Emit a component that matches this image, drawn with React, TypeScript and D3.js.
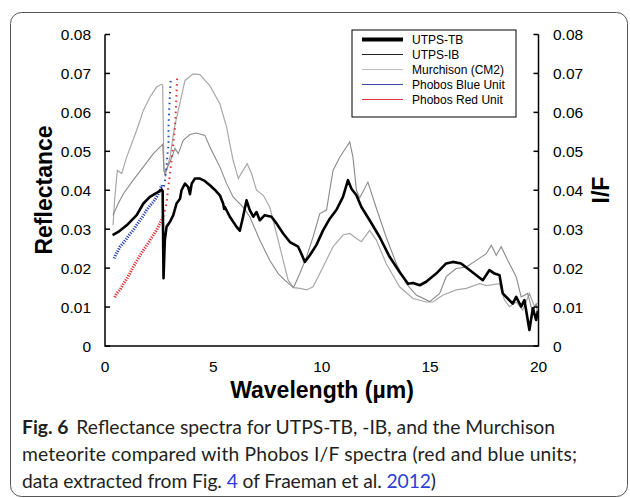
import React from 'react';
import * as d3 from 'd3';

const W = 630;
const H = 498;

const xTicks = [0, 5, 10, 15, 20];
const yTicks = [0, 0.01, 0.02, 0.03, 0.04, 0.05, 0.06, 0.07, 0.08];
const yTickLabels = ['0', '0.01', '0.02', '0.03', '0.04', '0.05', '0.06', '0.07', '0.08'];

const seriesNames = ['UTPS-TB', 'UTPS-IB', 'Murchison (CM2)', 'Phobos Blue Unit', 'Phobos Red Unit'];

const utpsTB: [number, number][] = [
  [0.35, 0.0285], [0.61, 0.0293], [1.0, 0.031], [1.46, 0.0336], [1.77, 0.0366], [2.07, 0.0383],
  [2.38, 0.0393], [2.61, 0.0402], [2.66, 0.0398], [2.7, 0.0174], [2.76, 0.0272], [2.84, 0.0306],
  [3.0, 0.0319], [3.15, 0.0336], [3.3, 0.0366], [3.46, 0.0378], [3.53, 0.04], [3.69, 0.0417],
  [3.84, 0.0408], [3.92, 0.039], [4.0, 0.0417], [4.15, 0.043], [4.38, 0.043], [4.6, 0.0424],
  [4.84, 0.0413], [5.05, 0.0402], [5.3, 0.0387], [5.45, 0.0366], [5.5, 0.0352], [5.53, 0.0357],
  [5.76, 0.0332], [6.07, 0.0306], [6.22, 0.0296], [6.37, 0.0332], [6.53, 0.0374], [6.68, 0.0349],
  [6.84, 0.0332], [6.99, 0.0344], [7.14, 0.0323], [7.37, 0.0336], [7.68, 0.0332], [7.91, 0.0315],
  [8.22, 0.0289], [8.53, 0.0267], [8.91, 0.0255], [9.06, 0.0237], [9.22, 0.0216], [9.45, 0.0233],
  [9.75, 0.0259], [10.06, 0.0297], [10.37, 0.0327], [10.68, 0.035], [10.98, 0.0383], [11.21, 0.0426],
  [11.37, 0.0404], [11.6, 0.0387], [11.83, 0.0357], [12.21, 0.0323], [12.67, 0.028], [13.13, 0.0229],
  [13.59, 0.019], [13.98, 0.016], [14.21, 0.0162], [14.52, 0.0156], [14.82, 0.0165], [15.28, 0.0186],
  [15.74, 0.0212], [16.05, 0.0216], [16.43, 0.0212], [16.82, 0.0195], [17.43, 0.0169], [17.74, 0.0195],
  [17.97, 0.0186], [18.2, 0.0182], [18.35, 0.0135], [18.58, 0.0122], [18.81, 0.0109], [18.97, 0.0126],
  [19.2, 0.0101], [19.35, 0.0118], [19.58, 0.0041], [19.74, 0.0097], [19.89, 0.0067], [19.97, 0.009],
];

const utpsIB: [number, number][] = [
  [0.37, 0.0336], [0.61, 0.0366], [0.85, 0.0391], [1.3, 0.0426], [1.77, 0.046], [2.23, 0.0494],
  [2.61, 0.0515], [2.66, 0.0518], [2.72, 0.0451], [2.76, 0.0445], [3.0, 0.0473], [3.23, 0.0507],
  [3.38, 0.0494], [3.61, 0.0528], [3.92, 0.0543], [4.22, 0.0547], [4.61, 0.0541], [4.84, 0.0511],
  [5.3, 0.046], [5.61, 0.0417], [5.91, 0.0383], [6.37, 0.0357], [6.68, 0.0332], [7.14, 0.0272],
  [7.6, 0.022], [7.99, 0.0186], [8.29, 0.0169], [8.7, 0.015], [8.99, 0.0186], [9.3, 0.0229],
  [9.6, 0.028], [9.91, 0.034], [10.22, 0.0349], [10.52, 0.0451], [10.83, 0.0485], [11.14, 0.0511],
  [11.29, 0.0524], [11.44, 0.0485], [11.6, 0.04], [11.75, 0.038], [12.13, 0.0421], [12.5, 0.0357],
  [12.97, 0.028], [13.44, 0.0212], [13.9, 0.016], [14.36, 0.0131], [14.98, 0.0114], [15.44, 0.0135],
  [15.74, 0.0178], [16.2, 0.0199], [16.67, 0.0203], [17.13, 0.022], [17.59, 0.0237], [17.82, 0.0259],
  [18.05, 0.0233], [18.28, 0.0255], [18.58, 0.022], [18.97, 0.0178], [19.2, 0.0126], [19.5, 0.0135],
  [19.74, 0.0084], [19.89, 0.0109], [19.97, 0.008],
];

const murchison: [number, number][] = [
  [0.37, 0.031], [0.45, 0.038], [0.57, 0.0451], [0.77, 0.0443], [1.0, 0.0485], [1.46, 0.0554],
  [1.77, 0.0605], [2.07, 0.0639], [2.38, 0.0665], [2.61, 0.0672], [2.66, 0.067], [2.72, 0.0451],
  [2.78, 0.0438], [3.0, 0.0485], [3.2, 0.056], [3.46, 0.0625], [3.69, 0.0682], [4.07, 0.0699],
  [4.38, 0.0697], [4.84, 0.0668], [5.3, 0.0622], [5.61, 0.0562], [5.91, 0.0477], [6.15, 0.043],
  [6.37, 0.0451], [6.56, 0.0468], [6.76, 0.0443], [6.99, 0.04], [7.3, 0.0387], [7.6, 0.0357],
  [7.91, 0.0289], [8.22, 0.022], [8.45, 0.0169], [8.7, 0.015], [9.0, 0.0148], [9.3, 0.0144],
  [9.6, 0.0152], [10.06, 0.0203], [10.52, 0.0255], [10.98, 0.0285], [11.29, 0.0289], [11.6, 0.0276],
  [11.83, 0.0268], [12.21, 0.0297], [12.52, 0.0272], [12.97, 0.0212], [13.59, 0.0152], [14.21, 0.0122],
  [14.82, 0.0113], [15.13, 0.0113], [15.6, 0.0131], [16.2, 0.0144], [16.67, 0.0148], [17.28, 0.016],
  [17.6, 0.0155], [18.2, 0.016], [18.43, 0.0118], [18.66, 0.0101], [18.97, 0.0113], [19.27, 0.0092],
  [19.58, 0.0135], [19.82, 0.0101], [19.95, 0.011],
];

const phobosBlue: [number, number][] = [
  [0.42, 0.0225], [0.5, 0.0235], [0.6, 0.0245], [0.69, 0.0255], [0.85, 0.0265], [1.0, 0.0276],
  [1.15, 0.0288], [1.3, 0.0297], [1.45, 0.031], [1.61, 0.0323], [1.77, 0.0335], [1.92, 0.0349],
  [2.07, 0.036], [2.23, 0.037], [2.35, 0.038], [2.46, 0.0391], [2.55, 0.0402], [2.61, 0.0413],
  [2.7, 0.0405], [2.76, 0.042], [2.8, 0.0443], [2.84, 0.046], [2.87, 0.0485], [2.9, 0.05],
  [2.93, 0.052], [2.93, 0.0562], [2.96, 0.0605], [3.0, 0.0652], [3.04, 0.069],
];

const phobosRed: [number, number][] = [
  [0.45, 0.0125], [0.54, 0.0135], [0.7, 0.0145], [0.85, 0.016], [1.0, 0.0172], [1.15, 0.0187],
  [1.3, 0.0203], [1.5, 0.0222], [1.77, 0.0246], [2.0, 0.0265], [2.23, 0.0285], [2.4, 0.03],
  [2.53, 0.0315], [2.69, 0.0332], [2.84, 0.0366], [2.92, 0.0408], [3.0, 0.0443], [3.07, 0.0477],
  [3.15, 0.052], [3.23, 0.0562], [3.28, 0.062], [3.33, 0.069],
];

const FONT = "'Liberation Sans', Arial, sans-serif";

export default function App() {
  const x = d3.scaleLinear().domain([0, 20]).range([105, 538.5]);
  const y = d3.scaleLinear().domain([0, 0.08]).range([346, 34.5]);
  const line = d3.line<[number, number]>().x(d => x(d[0])).y(d => y(d[1]));

  const splitDense = (arr: [number, number][], w: number) => {
    const i = arr.findIndex(d => d[0] > w);
    return [arr.slice(0, i), arr.slice(i - 1)];
  };
  const [blueDense, blueSparse] = splitDense(phobosBlue, 2.65);
  const [redDense, redSparse] = splitDense(phobosRed, 2.75);

  const x0 = x(0), x1 = x(20), yb = y(0), yt = y(0.08);

  const legendItems = [
    { name: seriesNames[0], stroke: '#000', width: 4 },
    { name: seriesNames[1], stroke: '#222', width: 1 },
    { name: seriesNames[2], stroke: '#c0c0c0', width: 1 },
    { name: seriesNames[3], stroke: '#3a4aa8', width: 1 },
    { name: seriesNames[4], stroke: '#e0303a', width: 1 },
  ];

  return (
    <svg width={W} height={H} style={{ position: 'absolute', left: 0, top: 0 }}>
      <rect x={0} y={0} width={W} height={H} fill="#fff" />
      <rect x={10.5} y={12.5} width={617} height={484} rx={11} fill="none" stroke="#555" strokeWidth={1} />

      {/* series */}
      <path d={line(murchison) || ''} fill="none" stroke="#a8a8a8" strokeWidth={1.2} />
      <path d={line(utpsIB) || ''} fill="none" stroke="#8a8a8a" strokeWidth={1.1} />
      <path d={line(blueDense) || ''} fill="none" stroke="#2a44b0" strokeWidth={3} strokeDasharray="1.2 1.3" />
      <path d={line(blueSparse) || ''} fill="none" stroke="#2a44b0" strokeWidth={2} strokeDasharray="1.5 4" />
      <path d={line(redDense) || ''} fill="none" stroke="#e03036" strokeWidth={3} strokeDasharray="1.2 1.3" />
      <path d={line(redSparse) || ''} fill="none" stroke="#e03036" strokeWidth={2} strokeDasharray="1.5 4" />
      <path d={line(utpsTB) || ''} fill="none" stroke="#000" strokeWidth={2.6} strokeLinejoin="round" />

      {/* axes */}
      <g stroke="#000" strokeWidth={1.5} fill="none">
        <path d={`M${x0},${yt}V${yb}H${x1}V${yt}`} />
        {yTicks.map(t => (
          <g key={t}>
            <line x1={x0} x2={x0 + 5} y1={y(t)} y2={y(t)} />
            <line x1={x1} x2={x1 - 5} y1={y(t)} y2={y(t)} />
          </g>
        ))}
      </g>
      <g fontFamily={FONT} fontSize={15.5} fill="#000">
        {yTicks.map((t, i) => (
          <text key={'l' + t} x={91} y={y(t)} dy="0.36em" textAnchor="end">{yTickLabels[i]}</text>
        ))}
        {yTicks.map((t, i) => (
          <text key={'r' + t} x={553} y={y(t)} dy="0.36em" textAnchor="start">{yTickLabels[i]}</text>
        ))}
        {xTicks.map(t => (
          <text key={'x' + t} x={x(t)} y={372} textAnchor="middle">{t}</text>
        ))}
      </g>
      <text x={322} y={398} textAnchor="middle" fontFamily={FONT} fontWeight="bold" fontSize={23}>Wavelength (µm)</text>
      <text transform="translate(52,190) rotate(-90)" textAnchor="middle" fontFamily={FONT} fontWeight="bold" fontSize={23}>Reflectance</text>
      <text transform="translate(609,190) rotate(-90)" textAnchor="middle" fontFamily={FONT} fontWeight="bold" fontSize={23}>I/F</text>

      {/* legend */}
      <rect x={352} y={30} width={164} height={87} fill="#fff" stroke="#000" strokeWidth={1} />
      {legendItems.map((it, i) => {
        const ly = 39.5 + i * 15;
        return (
          <g key={it.name}>
            <line x1={362} x2={403} y1={ly} y2={ly} stroke={it.stroke} strokeWidth={it.width} />
            <text x={412} y={ly} dy="0.35em" fontFamily={FONT} fontSize={12} fill="#000">{it.name}</text>
          </g>
        );
      })}

      {/* caption */}
      <g fontFamily="Lato, 'Open Sans', sans-serif" fontSize={19.3} fill="#231f20">
        <text x={22} y={434} textLength={533} lengthAdjust="spacing">
          <tspan fontWeight="bold">Fig. 6</tspan>
          <tspan dx={8}>Reflectance spectra for UTPS-TB, -IB, and the Murchison</tspan>
        </text>
        <text x={22} y={461} textLength={555} lengthAdjust="spacing">meteorite compared with Phobos I/F spectra (red and blue units;</text>
        <text x={22} y={488} textLength={414} lengthAdjust="spacing">
          data extracted from Fig. <tspan fill="#2b3fd8">4</tspan> of Fraeman et al. <tspan fill="#2b3fd8">2012</tspan>)
        </text>
      </g>
    </svg>
  );
}
